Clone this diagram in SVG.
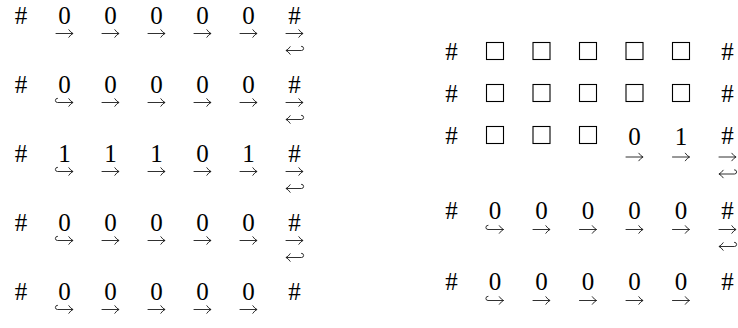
<svg xmlns="http://www.w3.org/2000/svg" xmlns:xlink="http://www.w3.org/1999/xlink" width="738" height="328" viewBox="0 0 738 328">
<style>
text{font-family:"Liberation Serif","Times New Roman",serif;font-size:25px;fill:#000;text-anchor:middle}
.ar{fill:none;stroke:#1a1a1a;stroke-width:0.9;stroke-linecap:round;stroke-linejoin:round}
.bx{fill:none;stroke:#000;stroke-width:1.1}
</style>
<defs>
<path id="ra" class="ar" d="M-8.5 0H8.3M4.3-3.8Q6.3-1 8.5 0Q6.3 1 4.3 3.8"/>
<path id="ha" class="ar" d="M-7 -4.2A2.1 2.1 0 0 0 -7 0H8.3M4.3-3.8Q6.3-1 8.5 0Q6.3 1 4.3 3.8"/>
<path id="hl" class="ar" d="M7 -4.2A2.1 2.1 0 0 1 7 0H-8.3M-4.3-3.8Q-6.3-1 -8.5 0Q-6.3 1 -4.3 3.8"/>
<rect id="bx" class="bx" x="-8.5" y="-8.5" width="17" height="17"/>
</defs>
<g id="left-grid">
<g id="L1"><text x="21" y="23.5">#</text><text x="64.5" y="23.5">0</text><text x="110.5" y="23.5">0</text><text x="156.5" y="23.5">0</text><text x="202.5" y="23.5">0</text><text x="248.5" y="23.5">0</text><text x="294.5" y="23.5">#</text></g>
<g id="L2"><text x="21" y="92.5">#</text><text x="64.5" y="92.5">0</text><text x="110.5" y="92.5">0</text><text x="156.5" y="92.5">0</text><text x="202.5" y="92.5">0</text><text x="248.5" y="92.5">0</text><text x="294.5" y="92.5">#</text></g>
<g id="L3"><text x="21" y="161.5">#</text><text x="64.5" y="161.5">1</text><text x="110.5" y="161.5">1</text><text x="156.5" y="161.5">1</text><text x="202.5" y="161.5">0</text><text x="248.5" y="161.5">1</text><text x="294.5" y="161.5">#</text></g>
<g id="L4"><text x="21" y="230.5">#</text><text x="64.5" y="230.5">0</text><text x="110.5" y="230.5">0</text><text x="156.5" y="230.5">0</text><text x="202.5" y="230.5">0</text><text x="248.5" y="230.5">0</text><text x="294.5" y="230.5">#</text></g>
<g id="L5"><text x="21" y="299.5">#</text><text x="64.5" y="299.5">0</text><text x="110.5" y="299.5">0</text><text x="156.5" y="299.5">0</text><text x="202.5" y="299.5">0</text><text x="248.5" y="299.5">0</text><text x="294.5" y="299.5">#</text></g>
</g>
<g id="right-grid">
<g id="R1"><text x="451.5" y="59.5">#</text><use href="#bx" x="495" y="51"/><use href="#bx" x="541.5" y="51"/><use href="#bx" x="588" y="51"/><use href="#bx" x="634.5" y="51"/><use href="#bx" x="681" y="51"/><text x="727.5" y="59.5">#</text></g>
<g id="R2"><text x="451.5" y="101.5">#</text><use href="#bx" x="495" y="93"/><use href="#bx" x="541.5" y="93"/><use href="#bx" x="588" y="93"/><use href="#bx" x="634.5" y="93"/><use href="#bx" x="681" y="93"/><text x="727.5" y="101.5">#</text></g>
<g id="R3"><text x="451.5" y="143.5">#</text><use href="#bx" x="495" y="135"/><use href="#bx" x="541.5" y="135"/><use href="#bx" x="588" y="135"/><text x="634.5" y="145">0</text><text x="681" y="145">1</text><text x="727.5" y="144">#</text></g>
<g id="R4"><text x="451.5" y="218.5">#</text><text x="495" y="218.5">0</text><text x="541.5" y="218.5">0</text><text x="588" y="218.5">0</text><text x="634.5" y="218.5">0</text><text x="681" y="218.5">0</text><text x="727.5" y="218.5">#</text></g>
<g id="R5"><text x="451.5" y="289.5">#</text><text x="495" y="289.5">0</text><text x="541.5" y="289.5">0</text><text x="588" y="289.5">0</text><text x="634.5" y="289.5">0</text><text x="681" y="289.5">0</text><text x="727.5" y="289.5">#</text></g>
</g>
<g id="connectors">
<use href="#ra" x="64.5" y="33.5"/><use href="#ra" x="110.5" y="33.5"/><use href="#ra" x="156.5" y="33.5"/><use href="#ra" x="202.5" y="33.5"/><use href="#ra" x="248.5" y="33.5"/><use href="#ra" x="294.5" y="33.5"/><use href="#hl" x="294.5" y="50.5"/>
<use href="#ha" x="64.5" y="102.5"/><use href="#ra" x="110.5" y="102.5"/><use href="#ra" x="156.5" y="102.5"/><use href="#ra" x="202.5" y="102.5"/><use href="#ra" x="248.5" y="102.5"/><use href="#ra" x="294.5" y="102.5"/><use href="#hl" x="294.5" y="119.5"/>
<use href="#ha" x="64.5" y="171.5"/><use href="#ra" x="110.5" y="171.5"/><use href="#ra" x="156.5" y="171.5"/><use href="#ra" x="202.5" y="171.5"/><use href="#ra" x="248.5" y="171.5"/><use href="#ra" x="294.5" y="171.5"/><use href="#hl" x="294.5" y="188.5"/>
<use href="#ha" x="64.5" y="240.5"/><use href="#ra" x="110.5" y="240.5"/><use href="#ra" x="156.5" y="240.5"/><use href="#ra" x="202.5" y="240.5"/><use href="#ra" x="248.5" y="240.5"/><use href="#ra" x="294.5" y="240.5"/><use href="#hl" x="294.5" y="257.5"/>
<use href="#ha" x="64.5" y="309.5"/><use href="#ra" x="110.5" y="309.5"/><use href="#ra" x="156.5" y="309.5"/><use href="#ra" x="202.5" y="309.5"/><use href="#ra" x="248.5" y="309.5"/>
<use href="#ra" x="634.5" y="157"/><use href="#ra" x="681" y="157"/><use href="#ra" x="727.5" y="157"/><use href="#hl" x="727.5" y="174"/>
<use href="#ha" x="495" y="229.5"/><use href="#ra" x="541.5" y="229.5"/><use href="#ra" x="588" y="229.5"/><use href="#ra" x="634.5" y="229.5"/><use href="#ra" x="681" y="229.5"/><use href="#ra" x="727.5" y="229.5"/><use href="#hl" x="727.5" y="246.5"/>
<use href="#ha" x="495" y="300.5"/><use href="#ra" x="541.5" y="300.5"/><use href="#ra" x="588" y="300.5"/><use href="#ra" x="634.5" y="300.5"/><use href="#ra" x="681" y="300.5"/>
</g>
</svg>
